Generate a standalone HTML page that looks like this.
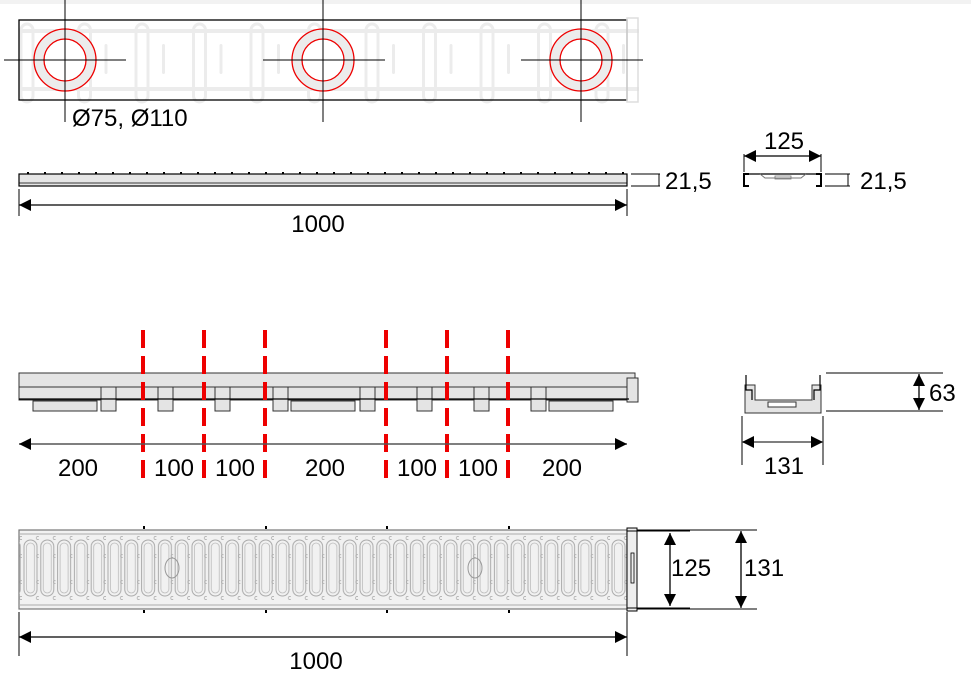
<!DOCTYPE html>
<html><head><meta charset="utf-8"><style>
html,body{margin:0;padding:0;background:#fff}
svg{display:block}
text{font-family:"Liberation Sans",sans-serif;fill:#000}
</style></head><body>
<svg width="971" height="673" viewBox="0 0 971 673" xmlns="http://www.w3.org/2000/svg">
<defs>
<marker id="a" viewBox="0 0 10 10" refX="10" refY="5" markerWidth="14" markerHeight="12" markerUnits="userSpaceOnUse" orient="auto-start-reverse"><path d="M0,0L10,5L0,10z" fill="#000"/></marker>
<marker id="b" viewBox="0 0 10 10" refX="10" refY="5" markerWidth="14" markerHeight="12" markerUnits="userSpaceOnUse" orient="auto-start-reverse"><path d="M0,0L10,5L0,10z" fill="#000"/></marker>
<pattern id="ghost" x="19" y="0" width="57.5" height="110" patternUnits="userSpaceOnUse">
<rect x="2" y="24" width="12" height="78" rx="6" fill="none" stroke="#ececec" stroke-width="3"/>
<rect x="28" y="44" width="3" height="30" rx="1.5" fill="#ececec"/>
</pattern>
<pattern id="slots" x="22" y="0" width="16.8" height="700" patternUnits="userSpaceOnUse">
<rect x="2" y="540" width="13" height="56" rx="6.5" fill="none" stroke="#aaa" stroke-width="1"/>
<rect x="4.5" y="543" width="8" height="50" rx="4" fill="none" stroke="#bbb" stroke-width="0.8"/>
<circle cx="16" cy="538" r="1.6" fill="none" stroke="#aaa" stroke-width="0.7"/>
<circle cx="16" cy="598" r="1.6" fill="none" stroke="#aaa" stroke-width="0.7"/>
<circle cx="16" cy="556" r="1.4" fill="none" stroke="#aaa" stroke-width="0.7"/>
<circle cx="16" cy="582" r="1.4" fill="none" stroke="#aaa" stroke-width="0.7"/>
</pattern>
<pattern id="dots" x="27" y="0" width="17" height="200" patternUnits="userSpaceOnUse"><rect x="0" y="172" width="2" height="2" fill="#000"/></pattern>
</defs>

<!-- TOP VIEW -->
<rect x="0" y="0" width="971" height="4" fill="#f2f2f2"/>
<rect x="19" y="15" width="608" height="90" fill="url(#ghost)"/>
<rect x="19" y="29" width="620" height="4" fill="#ececec"/>
<rect x="19" y="87" width="620" height="4" fill="#ececec"/>
<rect x="19" y="20" width="608" height="80" fill="none" stroke="#000" stroke-width="1.3"/>
<rect x="627" y="18" width="11" height="84" fill="none" stroke="#ddd" stroke-width="1.5"/>
<g fill="#fff" stroke="#ececec" stroke-width="10">
<circle cx="65" cy="60" r="26"/><circle cx="323" cy="60" r="26"/><circle cx="581" cy="60" r="26"/>
</g>
<g fill="none" stroke="#e00" stroke-width="1.3">
<circle cx="65" cy="60" r="31"/><circle cx="65" cy="60" r="21"/>
<circle cx="323" cy="60" r="31"/><circle cx="323" cy="60" r="21"/>
<circle cx="581" cy="60" r="31"/><circle cx="581" cy="60" r="21"/>
</g>
<g stroke="#000" stroke-width="1">
<line x1="65" y1="0" x2="65" y2="122"/><line x1="4" y1="60" x2="126" y2="60"/>
<line x1="323" y1="0" x2="323" y2="122"/><line x1="263" y1="60" x2="385" y2="60"/>
<line x1="581" y1="0" x2="581" y2="122"/><line x1="521" y1="60" x2="643" y2="60"/>
</g>
<text x="72" y="126" font-size="24">Ø75, Ø110</text>

<!-- GRATING SIDE -->
<rect x="19" y="170" width="608" height="6" fill="url(#dots)"/>
<rect x="19" y="174" width="608" height="12" fill="#e6e6e6" stroke="#000" stroke-width="1.2"/>
<line x1="19" y1="183" x2="627" y2="183" stroke="#000" stroke-width="0.8"/>
<g stroke="#000" stroke-width="1">
<line x1="631" y1="174" x2="660" y2="174"/><line x1="631" y1="186" x2="660" y2="186"/><line x1="659" y1="174" x2="659" y2="186"/>
<line x1="19" y1="189" x2="19" y2="216"/><line x1="627" y1="189" x2="627" y2="216"/>
<line x1="19" y1="205" x2="627" y2="205" stroke-width="1.3" marker-start="url(#a)" marker-end="url(#a)"/>
</g>
<text x="665" y="189" font-size="24">21,5</text>
<text x="318" y="232" font-size="24" text-anchor="middle">1000</text>

<!-- SMALL CROSS SECTION GRATING -->
<g stroke="#000" stroke-width="2" fill="none">
<path d="M749,174 H744 V186 H749"/><path d="M816,174 H821 V186 H816"/>
<line x1="744" y1="174" x2="821" y2="174" stroke-width="1.3"/>
<path d="M760,174 L765,178 H801 L806,174" stroke="#777" stroke-width="1"/>
<rect x="775" y="176" width="16" height="3" stroke="#777" stroke-width="0.8"/>
<line x1="744" y1="154" x2="744" y2="172" stroke-width="1"/><line x1="821" y1="154" x2="821" y2="172" stroke-width="1"/>
<line x1="744" y1="156" x2="821" y2="156" stroke-width="1.3" marker-start="url(#b)" marker-end="url(#b)"/>
<line x1="825" y1="174" x2="850" y2="174" stroke-width="1"/><line x1="825" y1="186" x2="850" y2="186" stroke-width="1"/><line x1="848" y1="174" x2="848" y2="186" stroke-width="1"/>
</g>
<text x="784" y="149" font-size="24" text-anchor="middle">125</text>
<text x="860" y="189" font-size="24">21,5</text>

<!-- CHANNEL SIDE -->
<g fill="#e4e4e4" stroke="#333" stroke-width="1">
<rect x="19" y="373" width="616" height="14"/>
<rect x="19" y="387" width="610" height="13"/>
<rect x="33" y="401" width="64" height="10"/>
<rect x="101" y="387" width="15" height="24"/>
<rect x="158" y="387" width="15" height="24"/>
<rect x="215" y="387" width="15" height="24"/>
<rect x="273" y="387" width="15" height="24"/>
<rect x="291" y="401" width="64" height="10"/>
<rect x="360" y="387" width="15" height="24"/>
<rect x="417" y="387" width="15" height="24"/>
<rect x="474" y="387" width="15" height="24"/>
<rect x="531" y="387" width="15" height="24"/>
<rect x="549" y="401" width="64" height="10"/>
<rect x="627" y="378" width="11" height="24"/>
</g>
<line x1="19" y1="399" x2="629" y2="399" stroke="#000" stroke-width="1.2"/>
<g stroke="#e00" stroke-width="4" stroke-dasharray="18,8">
<line x1="143" y1="330" x2="143" y2="478"/><line x1="204" y1="330" x2="204" y2="478"/><line x1="265" y1="330" x2="265" y2="478"/>
<line x1="386" y1="330" x2="386" y2="478"/><line x1="447" y1="330" x2="447" y2="478"/><line x1="508" y1="330" x2="508" y2="478"/>
</g>
<line x1="19" y1="444" x2="627" y2="444" stroke="#555" stroke-width="1.5" marker-start="url(#a)" marker-end="url(#a)"/>
<g font-size="24" text-anchor="middle">
<text x="78" y="476">200</text><text x="174" y="476">100</text><text x="235" y="476">100</text>
<text x="325" y="476">200</text><text x="417" y="476">100</text><text x="478" y="476">100</text><text x="562" y="476">200</text>
</g>

<!-- CHANNEL CROSS SECTION -->
<g stroke="#333" stroke-width="1" fill="#e4e4e4">
<path d="M745,385 H755 V400 H812 V385 H821 V413 H745 Z"/>
<rect x="768" y="402" width="28" height="5" fill="#fff"/>
</g>
<g stroke="#000" stroke-width="1.2" fill="none">
<path d="M746,375 V390 H752 V400 M820,375 V390 H814 V400"/>
<line x1="742" y1="416" x2="742" y2="465" stroke-width="1"/><line x1="823" y1="416" x2="823" y2="465" stroke-width="1"/>
<line x1="826" y1="373" x2="943" y2="373" stroke-width="1"/><line x1="826" y1="411" x2="943" y2="411" stroke-width="1"/>
<line x1="919" y1="374" x2="919" y2="410" stroke-width="1.3" marker-start="url(#b)" marker-end="url(#b)"/>
</g>
<line x1="742" y1="442" x2="823" y2="442" stroke="#555" stroke-width="1.5" marker-start="url(#b)" marker-end="url(#b)"/>
<text x="929" y="401" font-size="24">63</text>
<text x="784" y="474" font-size="24" text-anchor="middle">131</text>

<!-- GRATING TOP -->
<rect x="19" y="530" width="608" height="79" fill="#f1f1f1" stroke="#777" stroke-width="1.2"/>
<rect x="19" y="532" width="608" height="75" fill="url(#slots)"/>
<line x1="19" y1="534" x2="627" y2="534" stroke="#aaa"/>
<line x1="19" y1="605" x2="627" y2="605" stroke="#aaa"/>
<ellipse cx="172" cy="568" rx="7" ry="10" fill="none" stroke="#999"/>
<ellipse cx="475" cy="568" rx="7" ry="10" fill="none" stroke="#999"/>
<rect x="627" y="528" width="10" height="83" fill="#eee" stroke="#000" stroke-width="1"/>
<rect x="631" y="553" width="3" height="30" fill="none" stroke="#000" stroke-width="0.8"/>
<g fill="#000"><rect x="143" y="526" width="2" height="3"/><rect x="265" y="526" width="2" height="3"/><rect x="386" y="526" width="2" height="3"/><rect x="508" y="526" width="2" height="3"/>
<rect x="143" y="610" width="2" height="3"/><rect x="265" y="610" width="2" height="3"/><rect x="386" y="610" width="2" height="3"/><rect x="508" y="610" width="2" height="3"/></g>
<g stroke="#000" stroke-width="1">
<line x1="627" y1="531" x2="690" y2="531"/><line x1="627" y1="608" x2="690" y2="608"/>
<line x1="637" y1="530" x2="757" y2="530"/><line x1="637" y1="609" x2="757" y2="609"/>
<line x1="670" y1="533" x2="670" y2="606" stroke-width="1.3" marker-start="url(#b)" marker-end="url(#b)"/>
<line x1="741" y1="531" x2="741" y2="608" stroke-width="1.3" marker-start="url(#b)" marker-end="url(#b)"/>
<line x1="19" y1="612" x2="19" y2="656"/><line x1="627" y1="612" x2="627" y2="656"/>
<line x1="19" y1="637" x2="627" y2="637" stroke-width="1.3" marker-start="url(#a)" marker-end="url(#a)"/>
</g>
<text x="671" y="576" font-size="24">125</text>
<text x="744" y="576" font-size="24">131</text>
<text x="316" y="669" font-size="24" text-anchor="middle">1000</text>
</svg>
</body></html>
